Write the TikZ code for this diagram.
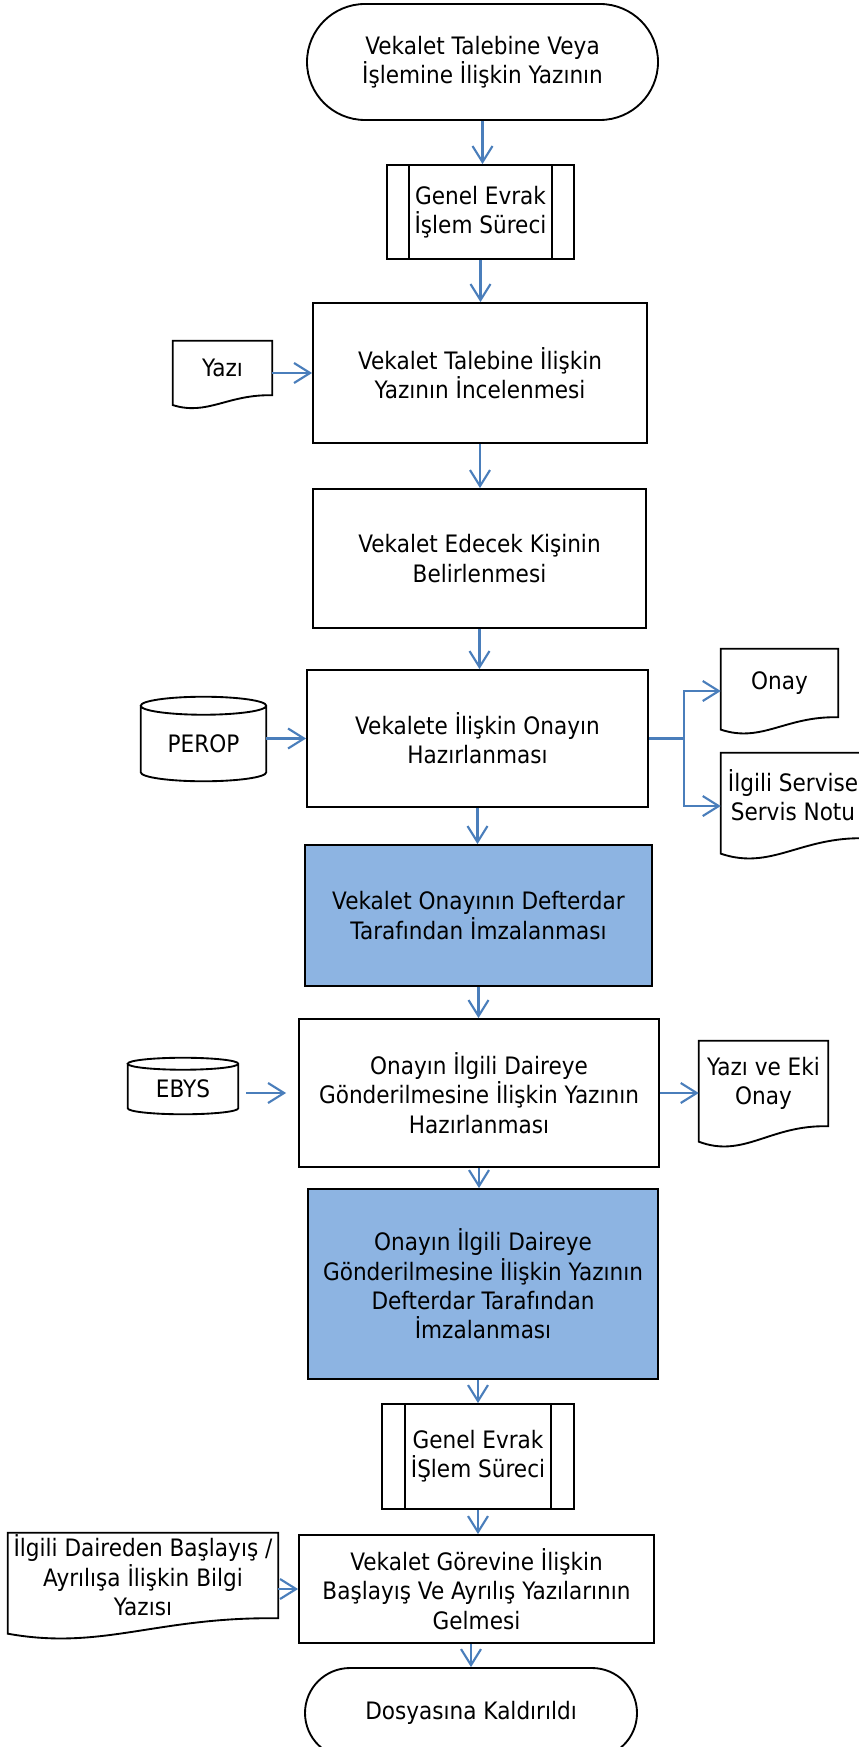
\documentclass[tikz,border=0pt]{standalone}
\usepackage{fontspec}
\setmainfont{DejaVu Sans}[FakeStretch=0.9]
\usetikzlibrary{arrows.meta,shapes.misc,calc}
\definecolor{arrblue}{RGB}{74,126,187}
\definecolor{boxblue}{RGB}{141,180,226}

\newcommand\docwave[1]{%
  \draw[shapeline] let \p1=(#1.south west), \p2=(#1.north east),
    \n1={\x2-\x1}, \n2={\y2-\y1} in
    (\x1,\y1-0.18*\n2) -- (\x1,\y2) -- (\x2,\y2) -- (\x2,\y1)
    .. controls (\x1+0.55*\n1,\y1+0.02*\n2) and (\x1+0.35*\n1,\y1-0.38*\n2) .. (\x1,\y1-0.18*\n2) -- cycle;}
\newcommand\cylout[2]{%
  \draw[shapeline] let \p1=(#1.south west), \p2=(#1.north east),
    \n1={(\x2-\x1)/2} in
    (\x1,\y2) -- (\x1,\y1+#2) arc[start angle=180,end angle=360,x radius=\n1,y radius=#2]
    -- (\x2,\y2) arc[start angle=0,end angle=360,x radius=\n1,y radius=#2];}
\newcommand\subproc[2]{%
  \draw[shapeline] ([xshift=#2]#1.north west) -- ([xshift=#2]#1.south west)
    ([xshift=-#2]#1.north east) -- ([xshift=-#2]#1.south east);}

\begin{document}
\begin{tikzpicture}[x=0.75pt,y=-0.75pt,
  font=\fontsize{18}{22}\selectfont,
  sz/.style 2 args={minimum width=#1*0.75pt, minimum height=#2*0.75pt},
  box/.style={draw, line width=1.4pt, rectangle, inner sep=0pt, align=center},
  bluebox/.style={box, fill=boxblue},
  term/.style={draw, line width=1.4pt, rounded rectangle, inner sep=0pt, align=center},
  plain/.style={rectangle, inner sep=0pt, align=center},
  shapeline/.style={draw, line width=1.4pt, line join=miter},
  arr/.style={draw=arrblue, line width=1.6pt, -{Straight Barb[length=12pt,width=15pt]}}]

\useasboundingbox (0,0) rectangle (859,1747);
\clip (0,0) rectangle (859,1747);

% nodes
\node[term, sz={351}{116}] (start) at (482.5,62) {Vekalet Talebine Veya\\İşlemine İlişkin Yazının};
\node[box, sz={187}{94}] (gep1) at (480.5,212) {Genel Evrak\\İşlem Süreci};
\node[box, sz={334}{140}] (b3) at (480,373) {Vekalet Talebine İlişkin\\Yazının İncelenmesi};
\node[plain, sz={99}{54}] (yazi) at (222.5,368) {Yazı};
\node[box, sz={333}{139}] (b4) at (479.5,558.5) {Vekalet Edecek Kişinin\\Belirlenmesi};
\node[box, sz={341}{137}] (b5) at (477.5,738.5) {Vekalete İlişkin Onayın\\Hazırlanması};
\node[plain, sz={125}{75}] (perop) at (203.5,743.5) {PEROP};
\node[plain, sz={117}{68}] (onay) at (779.5,683) {Onay};
\node[plain, sz={144}{85}] (servis) at (793,795.5) {İlgili Servise\\Servis Notu};
\node[bluebox, sz={347}{141}] (b6) at (478.5,915.5) {Vekalet Onayının Defterdar\\Tarafından İmzalanması};
\node[box, sz={360}{148}] (b7) at (479,1093) {Onayın İlgili Daireye\\Gönderilmesine İlişkin Yazının\\Hazırlanması};
\node[plain, sz={110}{50}] (ebys) at (183,1089) {EBYS};
\node[plain, sz={129}{85}] (yeo) at (763.5,1083.5) {Yazı ve Eki\\Onay};
\node[bluebox, sz={350}{190}] (b8) at (483,1284) {Onayın İlgili Daireye\\Gönderilmesine İlişkin Yazının\\Defterdar Tarafından\\İmzalanması};
\node[box, sz={192}{105}] (gep2) at (478,1456.5) {Genel Evrak\\İŞlem Süreci};
\node[box, sz={355}{108}] (b10) at (476.5,1589) {Vekalet Görevine İlişkin\\Başlayış Ve Ayrılış Yazılarının\\Gelmesi};
\node[plain, sz={270}{85}] (ild) at (143,1575.5) {İlgili Daireden Başlayış /\\Ayrılışa İlişkin Bilgi\\Yazısı};
\node[term, sz={332}{90}] (fin) at (471,1713) {Dosyasına Kaldırıldı};

% special outlines
\subproc{gep1}{17.25pt}
\subproc{gep2}{18pt}
\docwave{yazi}
\docwave{onay}
\docwave{servis}
\docwave{yeo}
\docwave{ild}
\cylout{perop}{6.75pt}
\cylout{ebys}{4.5pt}

% connectors
\coordinate (br) at (684,738.5);
\draw[arr] (start.south) -- (start.south |- gep1.north);
\draw[arr] (gep1.south) -- (gep1.south |- b3.north);
\draw[arr] (yazi.east |- b3.west) -- (b3.west);
\draw[arr] (b3.south) -- (b3.south |- b4.north);
\draw[arr] (b4.south) -- (b4.south |- b5.north);
\draw[arr] (perop.east |- b5.west) -- (b5.west);
\draw[arr] (b5.east) -- (br) |- ([yshift=-6pt]onay.west);
\draw[arr] (br) |- ([yshift=-7.9pt]servis.west);
\draw[arr] (b5.south) -- (b5.south |- b6.north);
\draw[arr] (b6.south) -- (b6.south |- b7.north);
\draw[arr, shorten <=6pt, shorten >=9pt] (ebys.east |- b7.west) -- (b7.west);
\draw[arr] (b7.east) -- (b7.east -| yeo.west);
\draw[arr] (b7.south) -- (b7.south |- b8.north);
\draw[arr] (b8.south -| gep2.north) -- (gep2.north);
\draw[arr] (gep2.south) -- (gep2.south |- b10.north);
\draw[arr] (ild.east |- b10.west) -- (b10.west);
\draw[arr] (b10.south -| fin.north) -- (fin.north);
\end{tikzpicture}
\end{document}
